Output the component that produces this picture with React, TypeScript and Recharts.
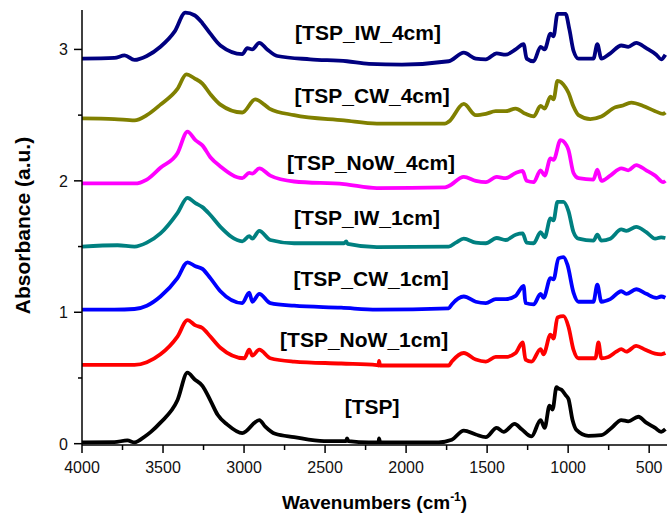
import React from "react";
import { LineChart, Line, XAxis, YAxis, ReferenceDot } from "recharts";

// FTIR spectra, stacked with offsets (wavenumber cm-1, absorbance a.u.)
const TSP: [number, number][] = [
  [4000, 0.01], [3800, 0.012], [3720, 0.025], [3676, 0.01], [3612, 0.055], [3575, 0.09], [3516, 0.16],
  [3411, 0.33], [3349, 0.54], [3306, 0.49], [3257, 0.44], [3208, 0.33], [3163, 0.22], [3103, 0.145],
  [3011, 0.08], [2906, 0.18], [2869, 0.13], [2808, 0.075], [2691, 0.05], [2506, 0.02], [2370, 0.02],
  [2365, 0.04], [2355, 0.02], [2229, 0.01], [2170, 0.01], [2167, 0.04], [2160, 0.01], [1800, 0.01],
  [1718, 0.03], [1644, 0.1], [1570, 0.07], [1508, 0.05], [1441, 0.12], [1398, 0.09], [1330, 0.15],
  [1287, 0.11], [1226, 0.055], [1170, 0.18], [1145, 0.12], [1115, 0.29], [1096, 0.26], [1072, 0.43],
  [1060, 0.42], [1041, 0.41], [1016, 0.37], [998, 0.34], [973, 0.18], [949, 0.105], [875, 0.06],
  [795, 0.065], [733, 0.12], [672, 0.18], [629, 0.17], [567, 0.205], [518, 0.16], [463, 0.12],
  [426, 0.09], [400, 0.11],
];

const NOW_1CM: [number, number][] = [
  [4000, 0.6], [3800, 0.6], [3676, 0.6], [3600, 0.62], [3516, 0.68], [3411, 0.815], [3349, 0.94],
  [3300, 0.9], [3257, 0.88], [3208, 0.815], [3146, 0.73], [2998, 0.65], [2968, 0.715], [2949, 0.67],
  [2906, 0.715], [2838, 0.65], [2691, 0.625], [2400, 0.61], [2180, 0.598], [2170, 0.595], [2167, 0.63],
  [2160, 0.595], [1737, 0.595], [1718, 0.625], [1644, 0.69], [1570, 0.64], [1508, 0.625], [1447, 0.66],
  [1386, 0.66], [1324, 0.69], [1281, 0.77], [1263, 0.64], [1226, 0.625], [1170, 0.72], [1152, 0.68],
  [1109, 0.83], [1090, 0.8], [1066, 0.96], [1029, 0.97], [998, 0.89], [967, 0.715], [936, 0.65],
  [832, 0.65], [813, 0.77], [795, 0.65], [752, 0.66], [703, 0.7], [672, 0.72], [641, 0.7], [580, 0.745],
  [524, 0.715], [463, 0.685], [426, 0.68], [400, 0.69],
];

const CW_1CM: [number, number][] = [
  [4000, 1.02], [3800, 1.02], [3676, 1.025], [3600, 1.05], [3516, 1.12], [3411, 1.26], [3349, 1.38],
  [3300, 1.35], [3257, 1.33], [3208, 1.26], [3146, 1.16], [3011, 1.07], [2968, 1.15], [2949, 1.08],
  [2906, 1.14], [2838, 1.07], [2691, 1.05], [2400, 1.035], [2180, 1.02], [1737, 1.03], [1718, 1.06],
  [1644, 1.12], [1570, 1.08], [1508, 1.07], [1447, 1.1], [1386, 1.1], [1324, 1.125], [1275, 1.2],
  [1263, 1.07], [1213, 1.06], [1170, 1.14], [1152, 1.11], [1109, 1.26], [1090, 1.25], [1060, 1.41],
  [1029, 1.42], [1004, 1.36], [967, 1.15], [936, 1.08], [844, 1.08], [820, 1.21], [795, 1.08],
  [740, 1.1], [672, 1.16], [641, 1.14], [580, 1.175], [518, 1.14], [456, 1.11], [426, 1.12], [400, 1.11],
];

const IW_1CM: [number, number][] = [
  [4000, 1.5], [3780, 1.51], [3676, 1.5], [3600, 1.53], [3516, 1.6], [3411, 1.755], [3349, 1.87],
  [3300, 1.83], [3257, 1.8], [3208, 1.74], [3146, 1.65], [3011, 1.54], [2968, 1.58], [2949, 1.56],
  [2906, 1.62], [2838, 1.55], [2691, 1.525], [2383, 1.525], [2370, 1.54], [2360, 1.52], [2180, 1.495],
  [1737, 1.5], [1693, 1.53], [1644, 1.56], [1570, 1.53], [1508, 1.525], [1441, 1.565], [1386, 1.55],
  [1324, 1.59], [1281, 1.6], [1256, 1.53], [1213, 1.525], [1170, 1.61], [1145, 1.57], [1109, 1.715],
  [1090, 1.7], [1066, 1.84], [1029, 1.84], [998, 1.77], [967, 1.61], [936, 1.56], [844, 1.545],
  [820, 1.59], [795, 1.545], [740, 1.56], [672, 1.63], [641, 1.62], [580, 1.65], [518, 1.61],
  [463, 1.56], [426, 1.57], [400, 1.565],
];

const NOW_4CM: [number, number][] = [
  [4000, 1.98], [3800, 1.98], [3676, 1.98], [3600, 2.01], [3516, 2.1], [3411, 2.21], [3349, 2.375],
  [3300, 2.31], [3257, 2.27], [3208, 2.18], [3146, 2.11], [3011, 2.02], [2968, 2.06], [2949, 2.055],
  [2906, 2.095], [2838, 2.04], [2691, 1.995], [2383, 1.975], [2180, 1.945], [1760, 1.95], [1737, 1.96],
  [1644, 2.03], [1570, 2.0], [1508, 1.99], [1441, 2.03], [1386, 2.02], [1324, 2.06], [1281, 2.075],
  [1256, 2.0], [1213, 1.99], [1170, 2.08], [1145, 2.04], [1109, 2.17], [1090, 2.16], [1047, 2.31],
  [1010, 2.27], [998, 2.235], [967, 2.06], [936, 2.02], [844, 2.01], [820, 2.085], [795, 2.0],
  [740, 2.04], [672, 2.095], [629, 2.08], [580, 2.12], [518, 2.08], [463, 2.04], [413, 1.99], [400, 2.0],
];

const CW_4CM: [number, number][] = [
  [4000, 2.475], [3800, 2.47], [3676, 2.46], [3600, 2.5], [3516, 2.58], [3411, 2.7], [3356, 2.81],
  [3306, 2.78], [3257, 2.74], [3208, 2.66], [3146, 2.58], [3011, 2.52], [2931, 2.62], [2875, 2.58],
  [2844, 2.55], [2691, 2.5], [2383, 2.46], [2180, 2.435], [1760, 2.435], [1737, 2.45], [1644, 2.585],
  [1570, 2.5], [1508, 2.51], [1447, 2.53], [1386, 2.53], [1324, 2.55], [1263, 2.51], [1213, 2.49],
  [1170, 2.57], [1145, 2.55], [1109, 2.64], [1090, 2.62], [1066, 2.76], [1016, 2.71], [998, 2.67],
  [967, 2.565], [936, 2.5], [863, 2.47], [795, 2.49], [709, 2.56], [672, 2.57], [610, 2.595],
  [537, 2.57], [463, 2.53], [413, 2.51], [400, 2.52],
];

const IW_4CM: [number, number][] = [
  [4000, 2.93], [3800, 2.935], [3737, 2.955], [3676, 2.92], [3600, 2.95], [3516, 3.02], [3429, 3.135],
  [3362, 3.28], [3306, 3.26], [3257, 3.2], [3208, 3.12], [3146, 3.03], [3011, 2.965], [2980, 3.01],
  [2949, 3.0], [2906, 3.05], [2857, 3.0], [2795, 2.95], [2592, 2.925], [2365, 2.91], [2229, 2.89],
  [2026, 2.885], [1737, 2.91], [1644, 2.975], [1570, 2.93], [1508, 2.925], [1441, 2.97], [1386, 2.96],
  [1324, 3.0], [1275, 3.04], [1256, 2.93], [1213, 2.91], [1170, 3.02], [1145, 3.0], [1109, 3.12],
  [1090, 3.1], [1066, 3.27], [1016, 3.27], [992, 3.15], [967, 2.99], [936, 2.93], [844, 2.93],
  [820, 3.04], [795, 2.93], [740, 2.97], [672, 3.03], [629, 3.02], [580, 3.05], [518, 3.01],
  [456, 2.96], [426, 2.925], [400, 2.96],
];

const SERIES = [
  { name: "[TSP]", data: TSP, color: "#000000", at: [2210, 0.28] },
  { name: "[TSP_NoW_1cm]", data: NOW_1CM, color: "#ff0000", at: [2259, 0.79] },
  { name: "[TSP_CW_1cm]", data: CW_1CM, color: "#0000ff", at: [2216, 1.26] },
  { name: "[TSP_IW_1cm]", data: IW_1CM, color: "#008080", at: [2241, 1.72] },
  { name: "[TSP_NoW_4cm]", data: NOW_4CM, color: "#ff00ff", at: [2216, 2.14] },
  { name: "[TSP_CW_4cm]", data: CW_4CM, color: "#808000", at: [2210, 2.65] },
  { name: "[TSP_IW_4cm]", data: IW_4CM, color: "#000080", at: [2235, 3.13] },
];

const X_TICKS = [4000, 3750, 3500, 3250, 3000, 2750, 2500, 2250, 2000, 1750, 1500, 1250, 1000, 750, 500];
const Y_TICKS = [0, 0.5, 1, 1.5, 2, 2.5, 3];

const FONT = "'Liberation Sans', Arial, sans-serif";

function XTick({ x, y, payload }: any) {
  const major = payload.value % 500 === 0;
  return (
    <g>
      <line x1={x} x2={x} y1={y} y2={y + (major ? 8 : 5)} stroke="#000" strokeWidth={1.5} />
      {major && (
        <text x={x} y={y + 28} textAnchor="middle" fontSize={16} fontFamily={FONT} fill="#111">
          {payload.value}
        </text>
      )}
    </g>
  );
}

function YTick({ x, y, payload }: any) {
  const major = Number.isInteger(payload.value);
  return (
    <g>
      <line x1={x} x2={x - (major ? 8 : 4)} y1={y} y2={y} stroke="#000" strokeWidth={1.5} />
      {major && (
        <text x={x - 14} y={y + 6} textAnchor="end" fontSize={16} fontFamily={FONT} fill="#111">
          {payload.value}
        </text>
      )}
    </g>
  );
}

function XTitle({ viewBox }: any) {
  const cx = viewBox.x + viewBox.width / 2;
  return (
    <text x={cx} y={509} textAnchor="middle" fontSize={19} fontWeight="bold" fontFamily={FONT} fill="#000">
      <tspan>Wavenumbers (cm</tspan>
      <tspan dy={-8} fontSize={12}>-1</tspan>
      <tspan dy={8}>)</tspan>
    </text>
  );
}

function YTitle({ viewBox }: any) {
  const cy = viewBox.y + viewBox.height / 2 - 2;
  return (
    <text
      x={30}
      y={cy}
      transform={`rotate(-90, 30, ${cy})`}
      textAnchor="middle"
      fontSize={21}
      fontWeight="bold"
      fontFamily={FONT}
      fill="#000"
    >
      Absorbance (a.u.)
    </text>
  );
}

export default function App() {
  return (
    <div style={{ position: "absolute", left: 0, top: 0, width: 667, height: 515, background: "#fff" }}>
      <LineChart width={667} height={515} margin={{ top: 10, right: 0, bottom: 0, left: 0 }}>
        <XAxis
          type="number"
          dataKey="wn"
          domain={[390, 4000]}
          reversed
          allowDataOverflow
          ticks={X_TICKS}
          interval={0}
          tickSize={0}
          tickMargin={0}
          tickLine={false}
          tick={<XTick />}
          axisLine={{ stroke: "#000", strokeWidth: 1.5 }}
          height={70}
          label={(p: any) => <XTitle {...p} />}
        />
        <YAxis
          type="number"
          domain={[-0.01, 3.3]}
          allowDataOverflow
          ticks={Y_TICKS}
          interval={0}
          tickSize={0}
          tickMargin={0}
          tickLine={false}
          tick={<YTick />}
          axisLine={{ stroke: "#000", strokeWidth: 1.5 }}
          width={82}
          label={(p: any) => <YTitle {...p} />}
        />
        {SERIES.map((s) => (
          <Line
            key={s.name}
            data={s.data.map(([wn, v]) => ({ wn, v }))}
            dataKey="v"
            type="monotone"
            stroke={s.color}
            strokeWidth={3.8}
            strokeLinejoin="round"
            dot={false}
            activeDot={false}
            isAnimationActive={false}
          />
        ))}
        {SERIES.map((s) => (
          <ReferenceDot
            key={s.name + "-label"}
            x={s.at[0]}
            y={s.at[1]}
            r={0}
            fill="none"
            stroke="none"
            label={{
              value: s.name,
              position: "center",
              fontSize: 21,
              fontWeight: "bold",
              fontFamily: FONT,
              fill: "#000",
            }}
          />
        ))}
      </LineChart>
    </div>
  );
}
